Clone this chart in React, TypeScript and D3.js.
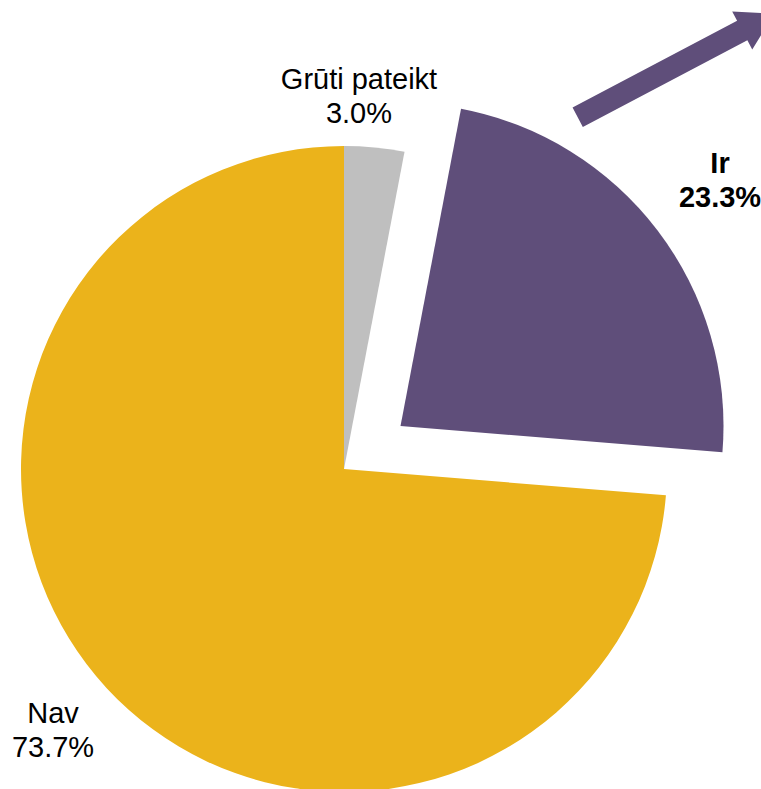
import React from "react";
import * as d3 from "d3";

const categories = ["Grūti pateikt", "Ir", "Nav"];
const values = [3.0, 23.3, 73.7];
const valueLabels = ["3.0%", "23.3%", "73.7%"];
const colors = ["#BFBFBF", "#5F4E7A", "#EBB31B"];
const boldLabel = [false, true, false];
const exploded = [false, true, false];

const W = 761;
const H = 789;
const CX = 344;
const CY = 469;
const R = 323;
const EXPLODE = 71;
// label anchor (center x, first baseline y)
const labelPos: [number, number][] = [
  [359, 89],
  [720, 173],
  [53, 723],
];
const LINE = 34;

function arrowPath(): string {
  const tail: [number, number] = [577.7, 117.3];
  const ang = (-27.8 * Math.PI) / 180;
  const dir = [Math.cos(ang), Math.sin(ang)];
  const perp = [-dir[1], dir[0]];
  const bodyLen = 186;
  const bodyW = 22;
  const headW = 43;
  const headL = 36;
  const p = (t: number, s: number): [number, number] => [
    tail[0] + dir[0] * t + perp[0] * s,
    tail[1] + dir[1] * t + perp[1] * s,
  ];
  const pts = [
    p(0, -bodyW / 2),
    p(bodyLen, -bodyW / 2),
    p(bodyLen, -headW / 2),
    p(bodyLen + headL, 0),
    p(bodyLen, headW / 2),
    p(bodyLen, bodyW / 2),
    p(0, bodyW / 2),
  ];
  return d3.line()(pts) + "Z";
}

export default function App() {
  const pie = d3
    .pie<number>()
    .sort(null)
    .startAngle(0)
    .endAngle(2 * Math.PI)
    .value((d) => d);
  const arcs = pie(values);
  const arc = d3.arc<d3.PieArcDatum<number>>().innerRadius(0).outerRadius(R);

  return (
    <svg
      width={W}
      height={H}
      style={{ position: "absolute", left: 0, top: 0, background: "#fff" }}
      fontFamily="Arial, 'Liberation Sans', sans-serif"
    >
      <g transform={`translate(${CX},${CY})`}>
        {arcs.map((a, i) => {
          const mid = (a.startAngle + a.endAngle) / 2;
          const dx = exploded[i] ? Math.sin(mid) * EXPLODE : 0;
          const dy = exploded[i] ? -Math.cos(mid) * EXPLODE : 0;
          return (
            <path
              key={categories[i]}
              d={arc(a) || ""}
              fill={colors[i]}
              transform={`translate(${dx},${dy})`}
            />
          );
        })}
      </g>
      <path d={arrowPath()} fill={colors[1]} />
      {categories.map((c, i) => (
        <text
          key={c}
          x={labelPos[i][0]}
          y={labelPos[i][1]}
          textAnchor="middle"
          fontSize={29}
          fontWeight={boldLabel[i] ? "bold" : "normal"}
          fill="#000"
        >
          <tspan x={labelPos[i][0]}>{c}</tspan>
          <tspan x={labelPos[i][0]} dy={LINE}>
            {valueLabels[i]}
          </tspan>
        </text>
      ))}
    </svg>
  );
}
